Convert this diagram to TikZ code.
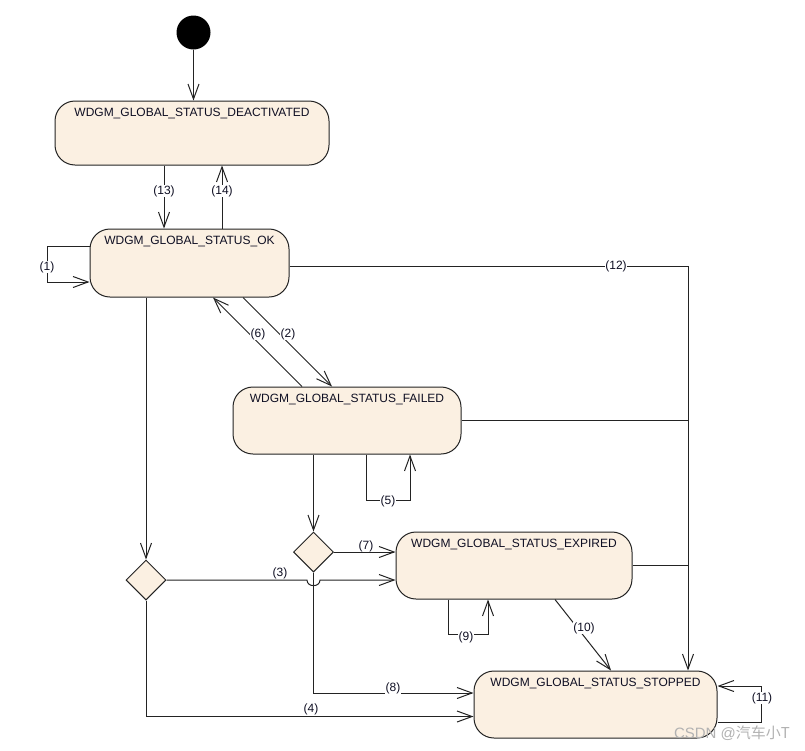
\documentclass[tikz,border=0pt]{standalone}
\usepackage{fontspec}
\setmainfont{Liberation Sans}
\newfontfamily\cjkfont{Noto Sans CJK SC}
\usetikzlibrary{arrows.meta,shapes.geometric}
\definecolor{statefill}{RGB}{251,240,226}
\definecolor{ink}{RGB}{35,35,35}
\definecolor{txt}{RGB}{15,15,35}
\begin{document}
\begin{tikzpicture}[x=1pt,y=-1pt,
  every node/.style={font=\fontsize{12}{14}\selectfont, text=txt},
  state/.style={draw=ink, line width=1pt, fill=statefill, rounded corners=20pt, inner sep=0pt},
  choice/.style={draw=ink, line width=1pt, fill=statefill, diamond, inner sep=0pt, minimum width=40pt, minimum height=40pt},
  stname/.style={anchor=base, inner sep=0pt},
  conn/.style={draw=ink, line width=1pt},
  arr/.style={conn, -{Straight Barb[length=15pt,width=11pt]}},
  lbl/.style={fill=white, inner sep=0.8pt}
]
\useasboundingbox[fill=white] (0,0) rectangle (805,750);

% states
\node[fill=black, circle, inner sep=0pt, minimum size=34pt] (init) at (193.5,32.5) {};
\node[state, minimum width=274pt, minimum height=64pt] (deact) at (192,133) {};
\node[state, minimum width=199pt, minimum height=68pt] (ok) at (189.5,263) {};
\node[state, minimum width=228pt, minimum height=67pt] (failed) at (347,420.5) {};
\node[state, minimum width=236pt, minimum height=67pt] (expired) at (514,565.5) {};
\node[state, minimum width=243pt, minimum height=67pt] (stopped) at (595.5,704.5) {};
\node[choice] (d1) at (146,580) {};
\node[choice] (d2) at (313.5,552) {};

\node[stname] (deactT) at ([yshift=-16pt]deact.north) {WDGM\_GLOBAL\_STATUS\_DEACTIVATED};
\node[stname] (okT) at ([yshift=-16pt]ok.north) {WDGM\_GLOBAL\_STATUS\_OK};
\node[stname] (failedT) at ([yshift=-16pt]failed.north) {WDGM\_GLOBAL\_STATUS\_FAILED};
\node[stname] (expiredT) at ([yshift=-16pt]expired.north) {WDGM\_GLOBAL\_STATUS\_EXPIRED};
\node[stname] (stoppedT) at ([yshift=-16pt]stopped.north) {WDGM\_GLOBAL\_STATUS\_STOPPED};

% connectors
\draw[arr] (init.south) -- (init.south |- deact.north);
\draw[arr] (deact.south -| 164,0) -- (ok.north -| 164,0);
\draw[arr] (ok.north -| 222,0) -- (deact.south -| 222,0);
\draw[arr] (ok.west |- 0,246) -- (47,246) -- (47,282) -- (ok.west |- 0,282);
\draw[arr] (failed.north -| 302,0) -- (ok.south -| 213,0);
\draw[arr] (ok.south -| 243,0) -- (failed.north -| 332,0);
\draw[arr] (ok.east |- 0,266) -- (688,266) -- (stopped.north -| 688,0);
\draw[conn] (failed.east) -- (failed.east -| 688,0);
\draw[conn] (expired.east) -- (expired.east -| 688,0);
\draw[arr] (failed.south -| 366,0) -- (366,500) -- (410,500) -- (failed.south -| 410,0);
\draw[arr] (failed.south -| d2.north) -- (d2.north);
\draw[arr] (ok.south -| d1.north) -- (d1.north);
\draw[arr] (d2.east) -- (expired.west |- d2.east);
\draw[arr] (d1.east) -- (307,580) .. controls (307,587.5) and (320,587.5) .. (320,580) -- (expired.west |- d1.east);
\draw[arr] (d2.south) -- (d2.south |- 0,693) -- (stopped.west |- 0,693);
\draw[arr] (d1.south) -- (d1.south |- 0,716.5) -- (stopped.west |- 0,716.5);
\draw[arr] (expired.south -| 448,0) -- (448,634) -- (488,634) -- (expired.south -| 488,0);
\draw[arr] (expired.south -| 555,0) -- (stopped.north -| 611,0);
\draw[arr] (stopped.east |- 0,722) -- (761,722) -- (761,686) -- (stopped.east |- 0,686);

% labels
\node[lbl] (l1) at (47,267) {(1)};
\node[lbl] (l2) at (288,334) {(2)};
\node[lbl] (l3) at (280,573) {(3)};
\node[lbl] (l4) at (311,709) {(4)};
\node[lbl] (l5) at (388,501) {(5)};
\node[lbl] (l6) at (258,334) {(6)};
\node[lbl] (l7) at (366,546) {(7)};
\node[lbl] (l8) at (393,688) {(8)};
\node[lbl] (l9) at (466,637) {(9)};
\node[lbl] (l10) at (584,628) {(10)};
\node[lbl] (l11) at (762,698) {(11)};
\node[lbl] (l12) at (616,266) {(12)};
\node[lbl] (l13) at (164,191) {(13)};
\node[lbl] (l14) at (222,191) {(14)};

\node[text=black!30, font=\fontsize{15}{17}\selectfont, inner sep=0pt] (wm) at (732,733) {CSDN @{\cjkfont 汽车小T}};
\end{tikzpicture}
\end{document}
